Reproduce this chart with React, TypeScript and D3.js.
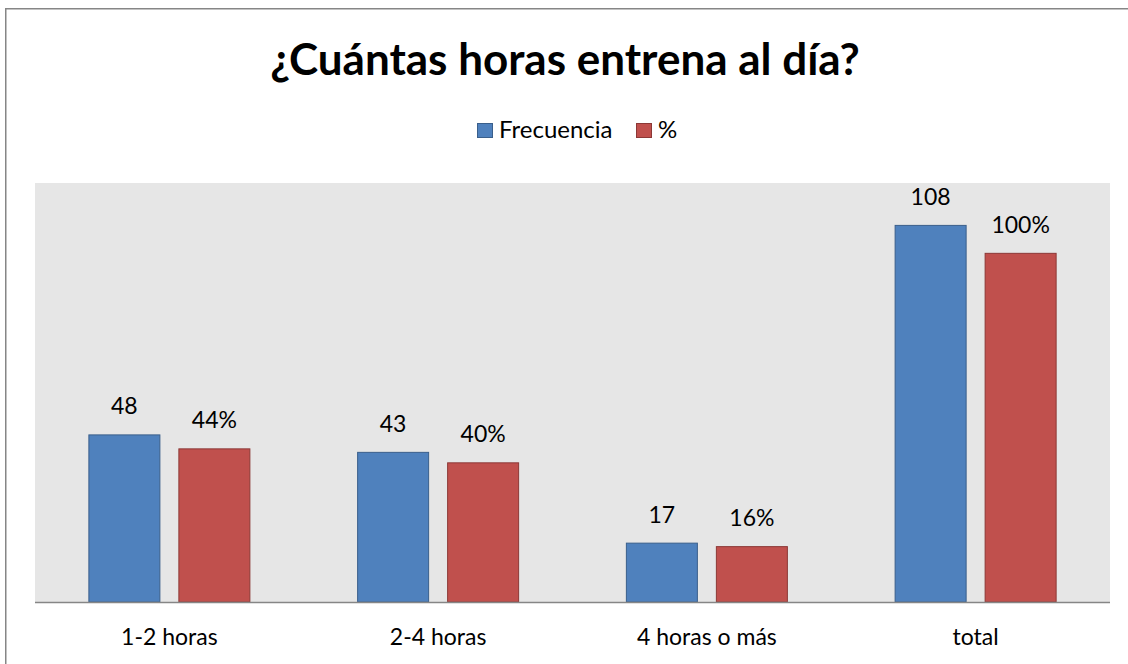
import React from "react";
import * as d3 from "d3";

const categories = ["1-2 horas", "2-4 horas", "4 horas o más", "total"];
const series = ["Frecuencia", "%"];
const frecuencia = [48, 43, 17, 108];
const porcentaje = [44, 40, 16, 100];
const colors = ["#4F81BD", "#C0504D"];
const borders = ["#3A5F8B", "#8C3836"];

const W = 1128;
const H = 664;
const FONT = "Lato, 'Open Sans', sans-serif";

export default function App() {
  const plot = { left: 35, right: 1110, top: 183, bottom: 602 };
  const x0 = d3.scaleBand<string>().domain(categories).range([plot.left, plot.right]);
  const x1 = d3.scaleBand<string>().domain(series).range([-81, 81]).paddingInner(0.2).paddingOuter(0);
  const y = d3.scaleLinear().domain([0, 120]).range([plot.bottom, plot.top]);
  const values = [frecuencia, porcentaje];
  const labelFmt = [(v: number) => `${v}`, (v: number) => `${v}%`];

  return (
    <svg
      width={W}
      height={H}
      style={{ position: "absolute", left: 0, top: 0, background: "#fff", display: "block", overflow: "hidden" }}
    >
      <path d={`M5.75,${H} V8.75 H${W}`} fill="none" stroke="#868686" strokeWidth={1.5} />
      <text x={565} y={75} textAnchor="middle" fontFamily={FONT} fontWeight={700} fontSize={44} fill="#000">
        ¿Cuántas horas entrena al día?
      </text>
      {/* legend */}
      <g fontFamily={FONT} fontSize={24} fill="#000">
        <rect x={477.5} y={123.5} width={15} height={14} fill={colors[0]} stroke={borders[0]} />
        <text x={499} y={138}>{series[0]}</text>
        <rect x={636.5} y={123.5} width={15} height={14} fill={colors[1]} stroke={borders[1]} />
        <text x={658} y={138}>{series[1]}</text>
      </g>
      <rect x={plot.left} y={plot.top} width={plot.right - plot.left} height={plot.bottom - plot.top} fill="#E6E6E6" />
      {categories.map((c, i) => {
        const cx = (x0(c) as number) + x0.bandwidth() / 2;
        return (
          <g key={c}>
            {series.map((s, j) => {
              const v = values[j][i];
              const bx = cx + (x1(s) as number);
              return (
                <g key={s}>
                  <rect
                    x={bx + 0.5}
                    y={y(v) + 0.5}
                    width={x1.bandwidth() - 1}
                    height={y(0) - y(v) - 0.5}
                    fill={colors[j]}
                    stroke={borders[j]}
                    strokeWidth={1}
                  />
                  <text
                    x={bx + x1.bandwidth() / 2}
                    y={y(v) - 20}
                    textAnchor="middle"
                    fontFamily={FONT}
                    fontSize={23}
                    fill="#000"
                  >
                    {labelFmt[j](v)}
                  </text>
                </g>
              );
            })}
            <text x={cx} y={645} textAnchor="middle" fontFamily={FONT} fontSize={23} fill="#000">
              {c}
            </text>
          </g>
        );
      })}
      <line x1={plot.left} x2={plot.right} y1={plot.bottom + 0.5} y2={plot.bottom + 0.5} stroke="#868686" strokeWidth={1.5} />
    </svg>
  );
}
